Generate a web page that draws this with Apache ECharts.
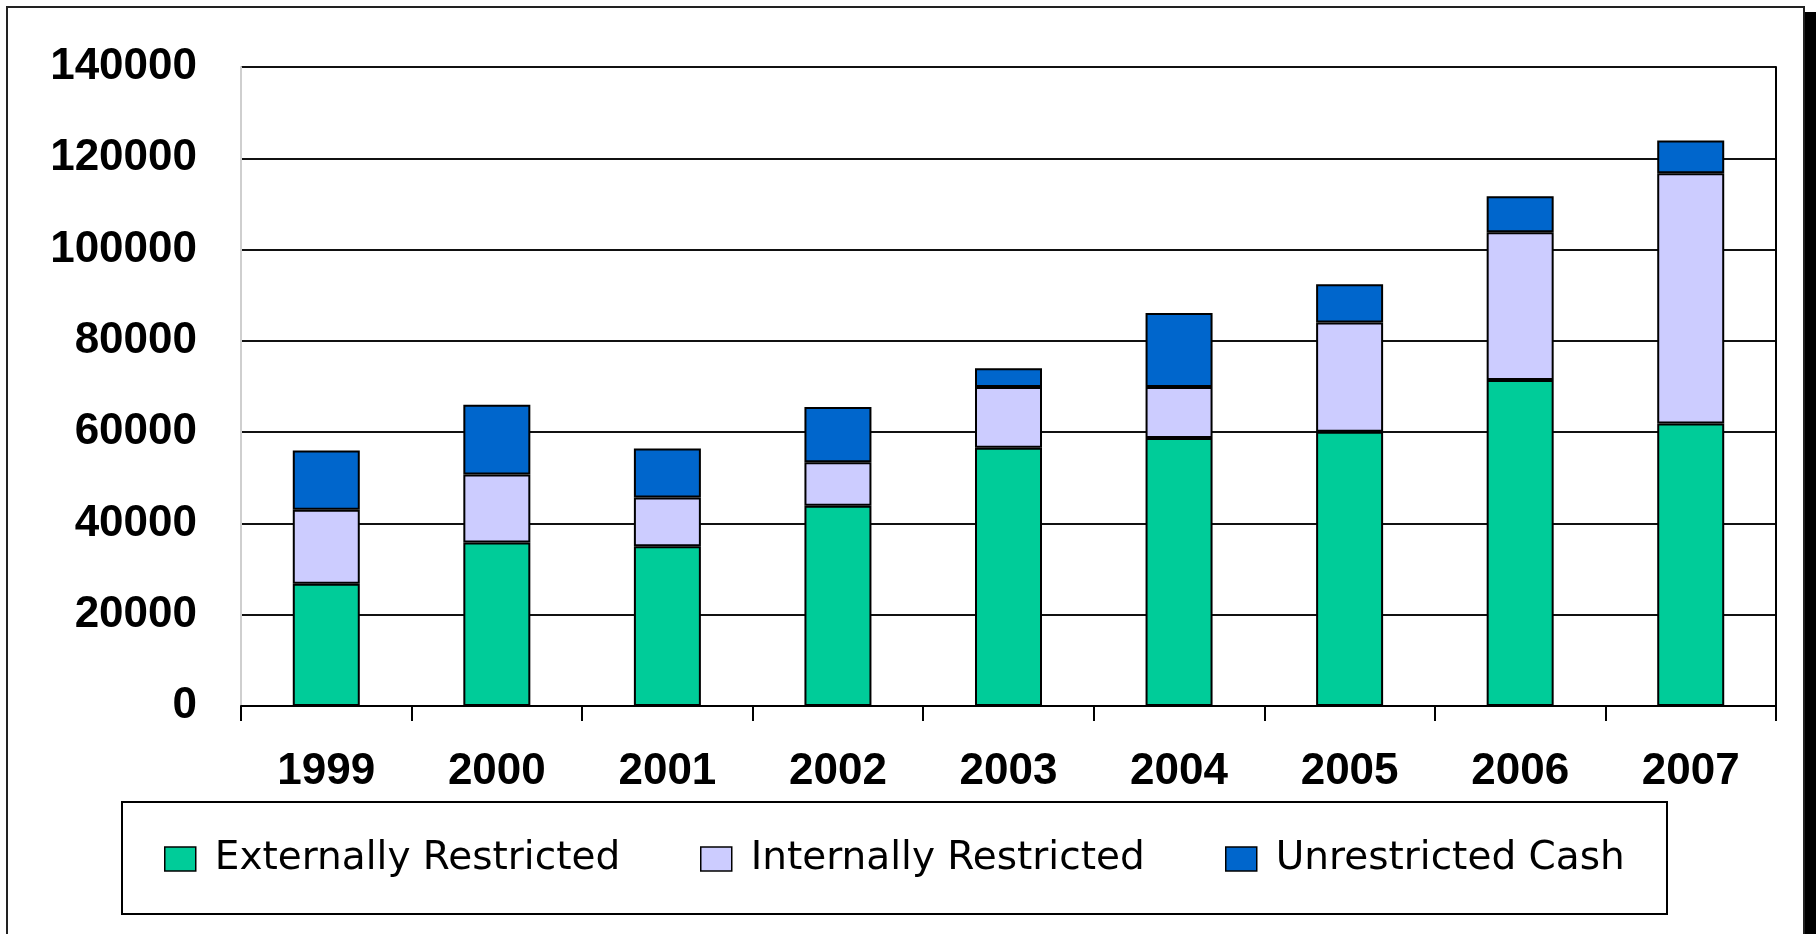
<!DOCTYPE html>
<html>
<head>
<meta charset="utf-8">
<title>Cash Reserves 1999-2007</title>
<script src="https://cdn.jsdelivr.net/npm/echarts@6/dist/echarts.min.js"></script>
<style>
  html, body { margin: 0; padding: 0; background: #ffffff; }
  #chart { width: 1816px; height: 934px; }
</style>
</head>
<body>
<div id="chart"></div>
<script>
// Fiscal years on the category axis
const years = ['1999', '2000', '2001', '2002', '2003', '2004', '2005', '2006', '2007'];

// Stacked components of the cash balance for each year
const externallyRestricted = [26800, 35800, 35000, 43900, 56600, 58700, 60100, 71400, 61900];
const internallyRestricted = [16200, 14900, 10700, 9500, 13300, 11200, 23900, 32400, 54800];
const unrestrictedCash     = [13000, 15300, 10700, 12100, 4100, 16200, 8400, 7900, 7200];

// Value axis range
const yMin = 0;
const yMax = 140000;
const yStep = 20000;

const seriesNames = ['Externally Restricted', 'Internally Restricted', 'Unrestricted Cash'];
const seriesColors = ['#00CC99', '#CCCCFF', '#0066CC'];
const seriesData = [externallyRestricted, internallyRestricted, unrestrictedCash];

const axisFont = { fontFamily: '"Liberation Sans", Arial, sans-serif', fontWeight: 'bold', fontSize: 44, color: '#000' };
const legendFont = { fontFamily: '"DejaVu Sans", Verdana, sans-serif', fontSize: 39, color: '#000' };

const chart = echarts.init(document.getElementById('chart'), null, { renderer: 'canvas' });

const legendLefts = [164, 700, 1225];

const option = {
  animation: false,
  backgroundColor: '#ffffff',
  grid: { left: 241, right: 40, top: 67, bottom: 228, containLabel: false },
  xAxis: {
    type: 'category',
    data: years,
    boundaryGap: true,
    axisLine: { show: true, lineStyle: { color: '#000', width: 2 } },
    axisTick: { show: true, length: 15, lineStyle: { color: '#000', width: 2 } },
    axisLabel: Object.assign({ margin: 44 }, axisFont),
    splitLine: { show: false }
  },
  yAxis: [
    {
      type: 'value',
      min: yMin,
      max: yMax,
      interval: yStep,
      axisLine: { show: true, lineStyle: { color: '#cfcfcf', width: 2 } },
      axisTick: { show: false },
      axisLabel: Object.assign({ margin: 44, formatter: (v) => String(v) }, axisFont),
      splitLine: { show: true, lineStyle: { color: '#111', width: 2 } }
    },
    {
      // right-hand frame of the plot area
      type: 'value',
      position: 'right',
      min: yMin,
      max: yMax,
      interval: yStep,
      axisLine: { show: true, lineStyle: { color: '#000', width: 2 } },
      axisTick: { show: false },
      axisLabel: { show: false },
      splitLine: { show: false }
    }
  ],
  legend: seriesNames.map((name, i) => ({
    data: [name],
    left: legendLefts[i],
    top: 839.5,
    padding: 0,
    icon: 'rect',
    itemWidth: 31,
    itemHeight: 24,
    selectedMode: false,
    itemStyle: { borderColor: '#000', borderWidth: 1.5 },
    textStyle: Object.assign({ padding: [0, 0, 0, 14] }, legendFont)
  })),
  graphic: [
    {
      // outer chart frame
      type: 'rect',
      silent: true,
      z: 0,
      shape: { x: 7, y: 7, width: 1797, height: 1000 },
      style: { fill: null, stroke: '#222', lineWidth: 2 }
    },
    {
      // drop shadow on the right side of the frame
      type: 'rect',
      silent: true,
      z: 0,
      shape: { x: 1805, y: 12, width: 14, height: 940 },
      style: { fill: '#000' }
    },
    {
      // legend box
      type: 'rect',
      silent: true,
      z: 0,
      shape: { x: 122, y: 802, width: 1545, height: 112 },
      style: { fill: null, stroke: '#000', lineWidth: 2 }
    }
  ],
  series: seriesNames.map((name, i) => ({
    name: name,
    type: 'bar',
    stack: 'cash',
    barWidth: 67,
    yAxisIndex: 0,
    data: seriesData[i],
    itemStyle: { color: seriesColors[i], borderColor: '#000', borderWidth: 2 },
    emphasis: { disabled: true }
  }))
};

chart.setOption(option);
</script>
</body>
</html>
